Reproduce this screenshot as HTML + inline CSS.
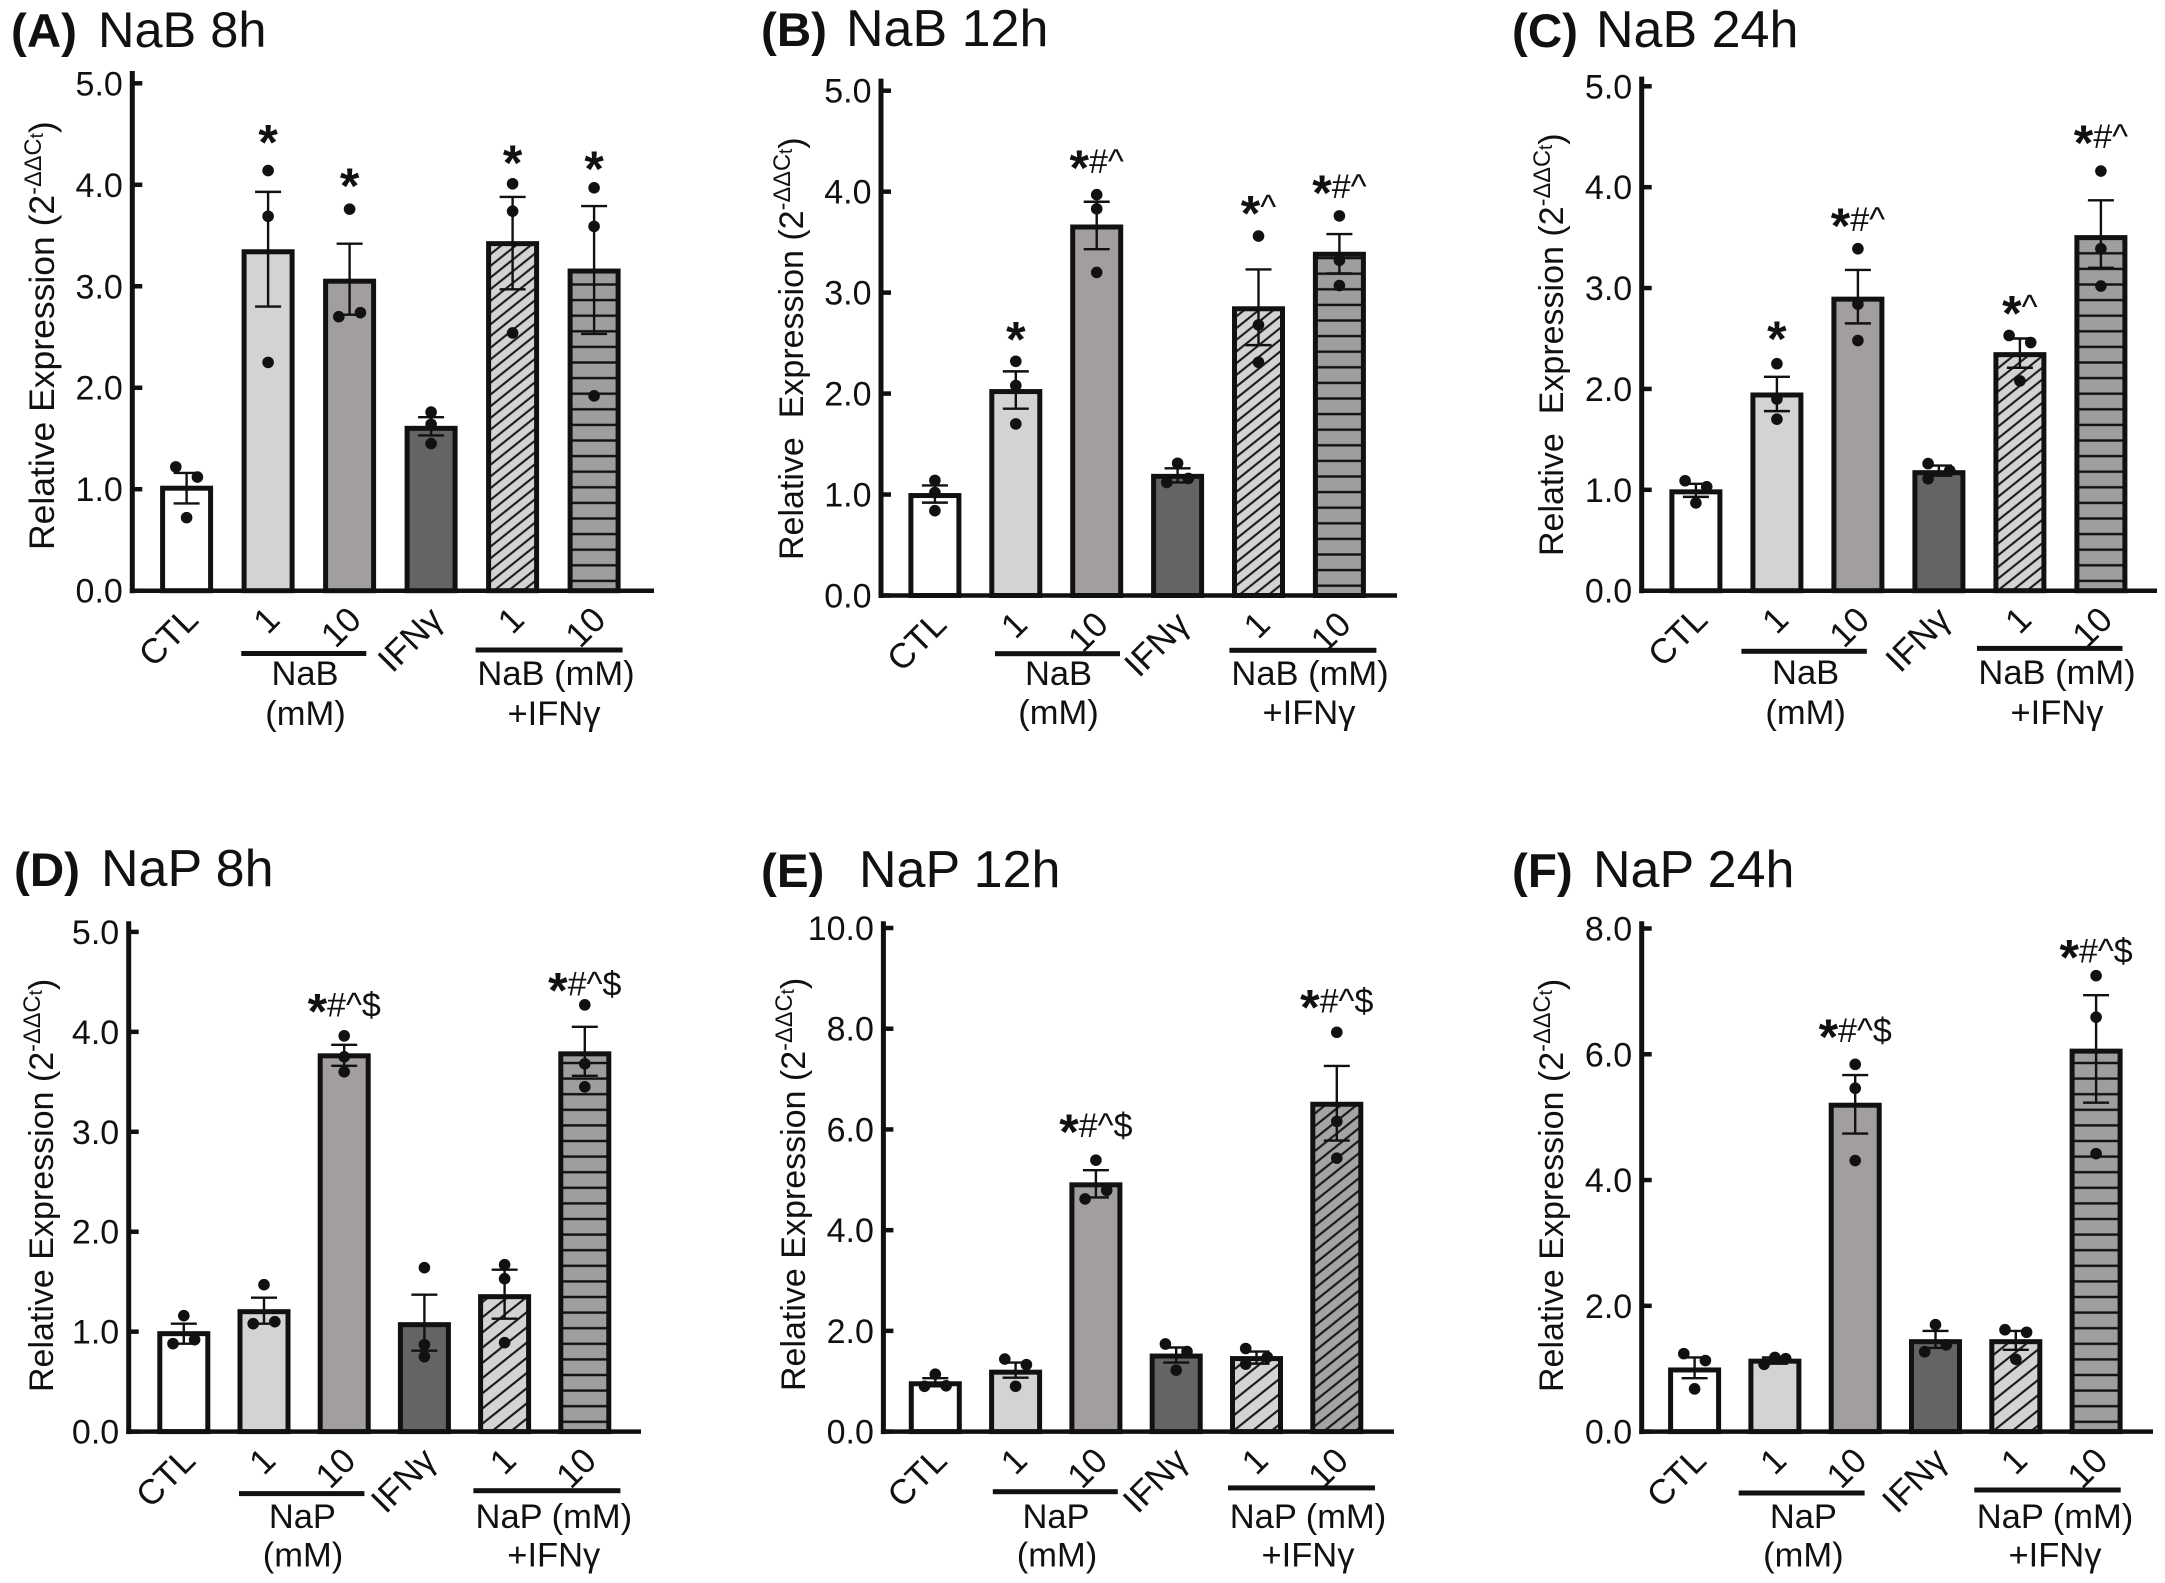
<!DOCTYPE html>
<html lang="en">
<head>
<meta charset="utf-8">
<title>Relative expression by treatment: NaB and NaP at 8h, 12h and 24h</title>
<style>
html,body{margin:0;padding:0;background:#fff;}
svg{display:block;}
text{font-family:"Liberation Sans",Arial,sans-serif;fill:#111;}
.title{font-size:52px;}
.panel-letter{font-size:47.5px;font-weight:bold;}
.ytitle{font-size:34px;}
.group-label{font-size:34.5px;text-anchor:middle;}
.tick{font-size:34px;text-anchor:end;}
.xlabel{font-size:35px;text-anchor:end;}
</style>
</head>
<body>
<svg id="figure" xmlns="http://www.w3.org/2000/svg" width="2165" height="1583" viewBox="0 0 2165 1583">
<defs>
<pattern id="horiz" patternUnits="userSpaceOnUse" width="20" height="15.6"><rect width="20" height="15.6" fill="#9f9d9f"/><rect y="6.6" width="20" height="2.4" fill="#111"/></pattern>
<pattern id="diag15" patternUnits="userSpaceOnUse" width="14.6" height="11.7"><rect width="14.6" height="11.7" fill="#d3d3d3"/><path d="M-1.46 1.17L1.46 -1.17M0 11.7L14.6 0M13.14 12.87L16.06 10.53" stroke="#1a1a1a" stroke-width="2.1"/></pattern>
<pattern id="diag21" patternUnits="userSpaceOnUse" width="19" height="15.2"><rect width="19" height="15.2" fill="#d3d3d3"/><path d="M-1.9 1.52L1.9 -1.52M0 15.2L19 0M17.1 16.72L20.9 13.68" stroke="#1a1a1a" stroke-width="2.2"/></pattern>
<pattern id="diagDark" patternUnits="userSpaceOnUse" width="15.6" height="12.5"><rect width="15.6" height="12.5" fill="#a5a3a5"/><path d="M-1.56 1.25L1.56 -1.25M0 12.5L15.6 0M14.04 13.75L17.16 11.25" stroke="#1a1a1a" stroke-width="2.2"/></pattern>
</defs>

<!-- Panel titles -->
<text class="panel-letter" x="11" y="47">(A)</text>
<text class="title" style="font-size:50.5px" x="98" y="47">NaB 8h</text>
<text class="panel-letter" x="761" y="46">(B)</text>
<text class="title" x="846" y="46">NaB 12h</text>
<text class="panel-letter" x="1512" y="47">(C)</text>
<text class="title" x="1596" y="47">NaB 24h</text>
<text class="panel-letter" x="14" y="886">(D)</text>
<text class="title" x="101" y="886">NaP 8h</text>
<text class="panel-letter" x="761" y="887">(E)</text>
<text class="title" x="859" y="887">NaP 12h</text>
<text class="panel-letter" x="1512" y="887">(F)</text>
<text class="title" x="1593" y="887">NaP 24h</text>

<!-- Y axis titles -->
<text class="ytitle" style="font-size:35.5px" transform="translate(54,550) rotate(-90)">Relative Expression (2<tspan dy="-13" font-size="23.6">-ΔΔC</tspan><tspan dy="2" font-size="19">t</tspan><tspan dy="11">)</tspan></text>
<text class="ytitle" xml:space="preserve" transform="translate(803,560) rotate(-90)">Relative  Expression (2<tspan dy="-13" font-size="23.6">-ΔΔC</tspan><tspan dy="2" font-size="19">t</tspan><tspan dy="11">)</tspan></text>
<text class="ytitle" xml:space="preserve" transform="translate(1563,556) rotate(-90)">Relative  Expression (2<tspan dy="-13" font-size="23.6">-ΔΔC</tspan><tspan dy="2" font-size="19">t</tspan><tspan dy="11">)</tspan></text>
<text class="ytitle" transform="translate(53,1392) rotate(-90)">Relative Expression (2<tspan dy="-13" font-size="23.6">-ΔΔC</tspan><tspan dy="2" font-size="19">t</tspan><tspan dy="11">)</tspan></text>
<text class="ytitle" transform="translate(805,1391) rotate(-90)">Relative Expression (2<tspan dy="-13" font-size="23.6">-ΔΔC</tspan><tspan dy="2" font-size="19">t</tspan><tspan dy="11">)</tspan></text>
<text class="ytitle" transform="translate(1563,1392) rotate(-90)">Relative Expression (2<tspan dy="-13" font-size="23.6">-ΔΔC</tspan><tspan dy="2" font-size="19">t</tspan><tspan dy="11">)</tspan></text>

<!-- Group brackets and labels -->
<rect x="241.3" y="651" width="125" height="5" fill="#111"/>
<rect x="475.6" y="647.5" width="147" height="5" fill="#111"/>
<text class="group-label" x="305" y="685">NaB</text>
<text class="group-label" x="305.5" y="725">(mM)</text>
<text class="group-label" x="556" y="685">NaB (mM)</text>
<text class="group-label" x="554" y="725">+IFNγ</text>

<rect x="995" y="651.2" width="125" height="5" fill="#111"/>
<rect x="1229.4" y="647.8" width="147" height="5" fill="#111"/>
<text class="group-label" x="1058.5" y="685">NaB</text>
<text class="group-label" x="1058.5" y="724">(mM)</text>
<text class="group-label" x="1310" y="685">NaB (mM)</text>
<text class="group-label" x="1309" y="724">+IFNγ</text>

<rect x="1741.4" y="648.8" width="125.4" height="5" fill="#111"/>
<rect x="1977" y="645.9" width="145.5" height="5" fill="#111"/>
<text class="group-label" x="1805.6" y="684">NaB</text>
<text class="group-label" x="1805.6" y="724">(mM)</text>
<text class="group-label" x="2057" y="684">NaB (mM)</text>
<text class="group-label" x="2057" y="724">+IFNγ</text>

<rect x="239" y="1491.1" width="125.4" height="5" fill="#111"/>
<rect x="473.4" y="1488.2" width="147" height="5" fill="#111"/>
<text class="group-label" x="302.4" y="1528">NaP</text>
<text class="group-label" x="303" y="1566.6">(mM)</text>
<text class="group-label" x="553.8" y="1528">NaP (mM)</text>
<text class="group-label" x="553.8" y="1566.6">+IFNγ</text>

<rect x="992.8" y="1489.2" width="125" height="5" fill="#111"/>
<rect x="1228" y="1485.4" width="147" height="5" fill="#111"/>
<text class="group-label" x="1056" y="1528">NaP</text>
<text class="group-label" x="1057" y="1566.6">(mM)</text>
<text class="group-label" x="1308" y="1528">NaP (mM)</text>
<text class="group-label" x="1308" y="1566.6">+IFNγ</text>

<rect x="1738.7" y="1490.5" width="125.9" height="5" fill="#111"/>
<rect x="1974.3" y="1487.5" width="146.4" height="5" fill="#111"/>
<text class="group-label" x="1803.4" y="1528">NaP</text>
<text class="group-label" x="1803.4" y="1566.6">(mM)</text>
<text class="group-label" x="2055" y="1528">NaP (mM)</text>
<text class="group-label" x="2055" y="1566.6">+IFNγ</text>
</svg>

<script>
/* ---------- chart data ---------- */
const categories = ['CTL', '1', '10', 'IFNγ', '1', '10'];

const yTicksFive = ['0.0', '1.0', '2.0', '3.0', '4.0', '5.0'];
const yTicksTen = ['0.0', '2.0', '4.0', '6.0', '8.0', '10.0'];
const yTicksEight = ['0.0', '2.0', '4.0', '6.0', '8.0'];

const meansA = [1.01, 3.34, 3.05, 1.60, 3.42, 3.15];
const errUpA = [1.16, 3.93, 3.42, 1.71, 3.88, 3.79];
const errLowA = [0.86, 2.80, 2.72, 1.53, 2.97, 2.53];
const dotsA = [[1.22, 1.12, 0.72], [4.14, 3.69, 2.25], [3.76, 2.70, 2.74], [1.76, 1.64, 1.45], [4.01, 3.74, 2.54], [3.97, 3.59, 1.92]];
const sidesA = [[-1, 1, 0], [0, 0, 0], [0, -1, 1], [0, 0, 0], [0, 0, 0], [0, 0, 0]];
const sigA = ['', '*', '*', '', '*', '*'];
const sigLevelA = [0, 4.47, 4.04, 0, 4.27, 4.21];

const meansB = [0.99, 2.02, 3.65, 1.18, 2.84, 3.38];
const errUpB = [1.09, 2.22, 3.90, 1.26, 3.23, 3.58];
const errLowB = [0.92, 1.85, 3.43, 1.12, 2.48, 3.19];
const dotsB = [[1.14, 1.02, 0.84], [2.32, 2.08, 1.70], [3.97, 3.83, 3.20], [1.31, 1.12, 1.16], [3.56, 2.68, 2.31], [3.76, 3.32, 3.07]];
const sidesB = [[0, 0, 0], [0, 0, 0], [0, 0, 0], [0, -1, 1], [0, 0, 0], [0, 0, 0]];
const sigB = ['', '*', '*#^', '', '*^', '*#^'];
const sigLevelB = [0, 2.59, 4.29, 0, 3.84, 4.04];

const meansC = [0.98, 1.94, 2.89, 1.17, 2.34, 3.50];
const errUpC = [1.06, 2.12, 3.18, 1.24, 2.50, 3.87];
const errLowC = [0.93, 1.78, 2.65, 1.14, 2.21, 3.20];
const dotsC = [[1.09, 1.03, 0.87], [2.25, 1.90, 1.70], [3.39, 2.84, 2.48], [1.26, 1.19, 1.11], [2.53, 2.46, 2.08], [4.16, 3.39, 3.02]];
const sidesC = [[-1, 1, 0], [0, 0, 0], [0, 0, 0], [-1, 1, -1], [-1, 1, 0], [0, 0, 0]];
const sigC = ['', '*', '*#^', '', '*^', '*#^'];
const sigLevelC = [0, 2.55, 3.67, 0, 2.80, 4.49];

const meansD = [0.98, 1.20, 3.76, 1.07, 1.35, 3.78];
const errUpD = [1.08, 1.34, 3.87, 1.37, 1.62, 4.05];
const errLowD = [0.88, 1.08, 3.66, 0.81, 1.13, 3.56];
const dotsD = [[1.16, 0.88, 0.92], [1.47, 1.08, 1.10], [3.96, 3.75, 3.60], [1.64, 0.87, 0.75], [1.67, 1.53, 0.89], [4.27, 3.68, 3.45]];
const sidesD = [[0, -1, 1], [0, -1, 1], [0, 0, 0], [0, 0, 0], [0, 0, 0], [0, 0, 0]];
const sigD = ['', '', '*#^$', '', '', '*#^$'];
const sigLevelD = [0, 0, 4.26, 0, 0, 4.47];

const meansE = [0.95, 1.18, 4.90, 1.50, 1.45, 6.50];
const errUpE = [1.06, 1.37, 5.19, 1.67, 1.59, 7.26];
const errLowE = [0.90, 1.07, 4.65, 1.37, 1.35, 5.78];
const dotsE = [[1.14, 0.90, 0.91], [1.44, 1.33, 0.90], [5.39, 4.62, 4.79], [1.74, 1.59, 1.22], [1.65, 1.48, 1.34], [7.93, 6.16, 5.43]];
const sidesE = [[0, -1, 1], [-1, 1, 0], [0, -1, 1], [-1, 1, 0], [-1, 1, -1], [0, 0, 0]];
const sigE = ['', '', '*#^$', '', '', '*#^$'];
const sigLevelE = [0, 0, 6.06, 0, 0, 8.53];

const meansF = [0.98, 1.12, 5.19, 1.43, 1.43, 6.05];
const errUpF = [1.18, 1.18, 5.67, 1.60, 1.60, 6.94];
const errLowF = [0.85, 1.08, 4.74, 1.33, 1.30, 5.23];
const dotsF = [[1.24, 1.13, 0.68], [1.07, 1.18, 1.16], [5.84, 5.46, 4.31], [1.70, 1.27, 1.38], [1.62, 1.58, 1.15], [7.25, 6.59, 4.42]];
const sidesF = [[-1, 1, 0], [-1, 0, 1], [0, 0, 0], [0, -1, 1], [-1, 1, 0], [0, 0, 0]];
const sigF = ['', '', '*#^$', '', '', '*#^$'];
const sigLevelF = [0, 0, 6.36, 0, 0, 7.63];

/* ---------- layout (pixel geometry of each panel frame) ---------- */
const panels = [
  {id:'a', means:meansA, up:errUpA, low:errLowA, dots:dotsA, sides:sidesA, sig:sigA, sigLevel:sigLevelA, ticks:yTicksFive, max:5,
   axisX:132.3, axisTop:71, top:83.3, base:590.7, right:654, first:186.6, step:81.5, hatchLow:'diag15', hatchHigh:'horiz'},
  {id:'b', means:meansB, up:errUpB, low:errLowB, dots:dotsB, sides:sidesB, sig:sigB, sigLevel:sigLevelB, ticks:yTicksFive, max:5,
   axisX:881, axisTop:78.6, top:90.7, base:595.5, right:1397, first:934.9, step:80.9, hatchLow:'diag15', hatchHigh:'horiz'},
  {id:'c', means:meansC, up:errUpC, low:errLowC, dots:dotsC, sides:sidesC, sig:sigC, sigLevel:sigLevelC, ticks:yTicksFive, max:5,
   axisX:1641.7, axisTop:76.6, top:86.3, base:590.7, right:2157, first:1695.9, step:81, hatchLow:'diag15', hatchHigh:'horiz'},
  {id:'d', means:meansD, up:errUpD, low:errLowD, dots:dotsD, sides:sidesD, sig:sigD, sigLevel:sigLevelD, ticks:yTicksFive, max:5,
   axisX:128.7, axisTop:921.3, top:931.9, base:1431.6, right:641, first:183.8, step:80.2, hatchLow:'diag21', hatchHigh:'horiz'},
  {id:'e', means:meansE, up:errUpE, low:errLowE, dots:dotsE, sides:sidesE, sig:sigE, sigLevel:sigLevelE, ticks:yTicksTen, max:10,
   axisX:883.4, axisTop:921.3, top:928, base:1431.6, right:1394, first:935.3, step:80.3, hatchLow:'diag21', hatchHigh:'diagDark'},
  {id:'f', means:meansF, up:errUpF, low:errLowF, dots:dotsF, sides:sidesF, sig:sigF, sigLevel:sigLevelF, ticks:yTicksEight, max:8,
   axisX:1641.7, axisTop:921.3, top:928.5, base:1431.6, right:2153, first:1694.6, step:80.3, hatchLow:'diag21', hatchHigh:'horiz'}
];

const SVG_NS = 'http://www.w3.org/2000/svg';
const figure = document.getElementById('figure');
const barWidth = 48;
const dotSpread = 10.8;

function mk(tag, attrs, parent) {
  const el = document.createElementNS(SVG_NS, tag);
  for (const k in attrs) el.setAttribute(k, attrs[k]);
  parent.appendChild(el);
  return el;
}
function xScale(p, i) { return p.first + i * p.step; }
function yScale(p, v) { return p.base - (v / p.max) * (p.base - p.top); }

panels.forEach(function (p) {
  const fills = ['#ffffff', '#d3d3d3', '#a19da1', '#646464', 'url(#' + p.hatchLow + '-' + p.id + ')', 'url(#' + p.hatchHigh + '-' + p.id + ')'];

  // patterns anchored to this panel's baseline
  [p.hatchLow, p.hatchHigh].forEach(function (name) {
    const clone = document.getElementById(name).cloneNode(true);
    clone.setAttribute('id', name + '-' + p.id);
    clone.setAttribute('patternTransform', 'translate(0,' + (p.base - 2) + ')');
    figure.querySelector('defs').appendChild(clone);
  });

  const g = mk('g', {}, figure);
  
  

  // bars
  p.means.forEach(function (m, i) {
    const y = yScale(p, m);
    const bar = mk('rect', {x: xScale(p, i) - barWidth / 2, y: y, width: barWidth, height: p.base - y, fill: fills[i], stroke: '#111', 'stroke-width': 5}, g);
    
    
  });

  // error bars
  p.means.forEach(function (m, i) {
    const cx = xScale(p, i);
    const yU = yScale(p, p.up[i]);
    const yL = yScale(p, p.low[i]);
    const err = mk('path', {d: 'M' + cx + ' ' + yU + 'V' + yL + 'M' + (cx - 13) + ' ' + yU + 'H' + (cx + 13) + 'M' + (cx - 13) + ' ' + yL + 'H' + (cx + 13), stroke: '#111', 'stroke-width': 2.4, fill: 'none'}, g);
    
    
  });

  // replicate dots
  p.dots.forEach(function (set, i) {
    set.forEach(function (v, j) {
      const dot = mk('circle', {cx: xScale(p, i) + p.sides[i][j] * dotSpread, cy: yScale(p, v), r: 5.8, fill: '#111'}, g);
      
      
    });
  });

  // axes
  const yAxis = mk('line', {x1: p.axisX, x2: p.axisX, y1: p.axisTop, y2: p.base + 2.5, stroke: '#111', 'stroke-width': 5}, g);
  
  
  const xAxis = mk('line', {x1: p.axisX - 2.5, x2: p.right, y1: p.base, y2: p.base, stroke: '#111', 'stroke-width': 4.5}, g);
  
  

  // y ticks
  p.ticks.forEach(function (label) {
    const v = parseFloat(label);
    const y = yScale(p, v);
    const tick = mk('line', {x1: p.axisX, x2: p.axisX + 10, y1: y, y2: y, stroke: '#111', 'stroke-width': 4.5}, g);
    
    
    const t = mk('text', {x: p.axisX - 9.5, y: y + 12, 'class': 'tick'}, g);
    
    
    t.textContent = label;
  });

  // x labels
  categories.forEach(function (label, i) {
    const ax = xScale(p, i) + 13.5;
    const ay = p.base + 31;
    const t = mk('text', {x: ax, y: ay, 'class': 'xlabel', transform: 'rotate(-45 ' + ax + ' ' + ay + ')'}, g);
    
    
    t.textContent = label;
  });

  // significance annotations
  p.sig.forEach(function (s, i) {
    if (!s) return;
    const yc = yScale(p, p.sigLevel[i]);
    const t = mk('text', {x: xScale(p, i), y: yc + 22.5, 'text-anchor': 'middle'}, g);
    
    
    const star = mk('tspan', {'font-size': 50, 'font-weight': 'bold'}, t);
    star.textContent = s.charAt(0);
    if (s.length > 1) {
      const rest = mk('tspan', {'font-size': 34, dy: -12}, t);
      rest.textContent = s.slice(1);
    }
  });
});
</script>
</body>
</html>
